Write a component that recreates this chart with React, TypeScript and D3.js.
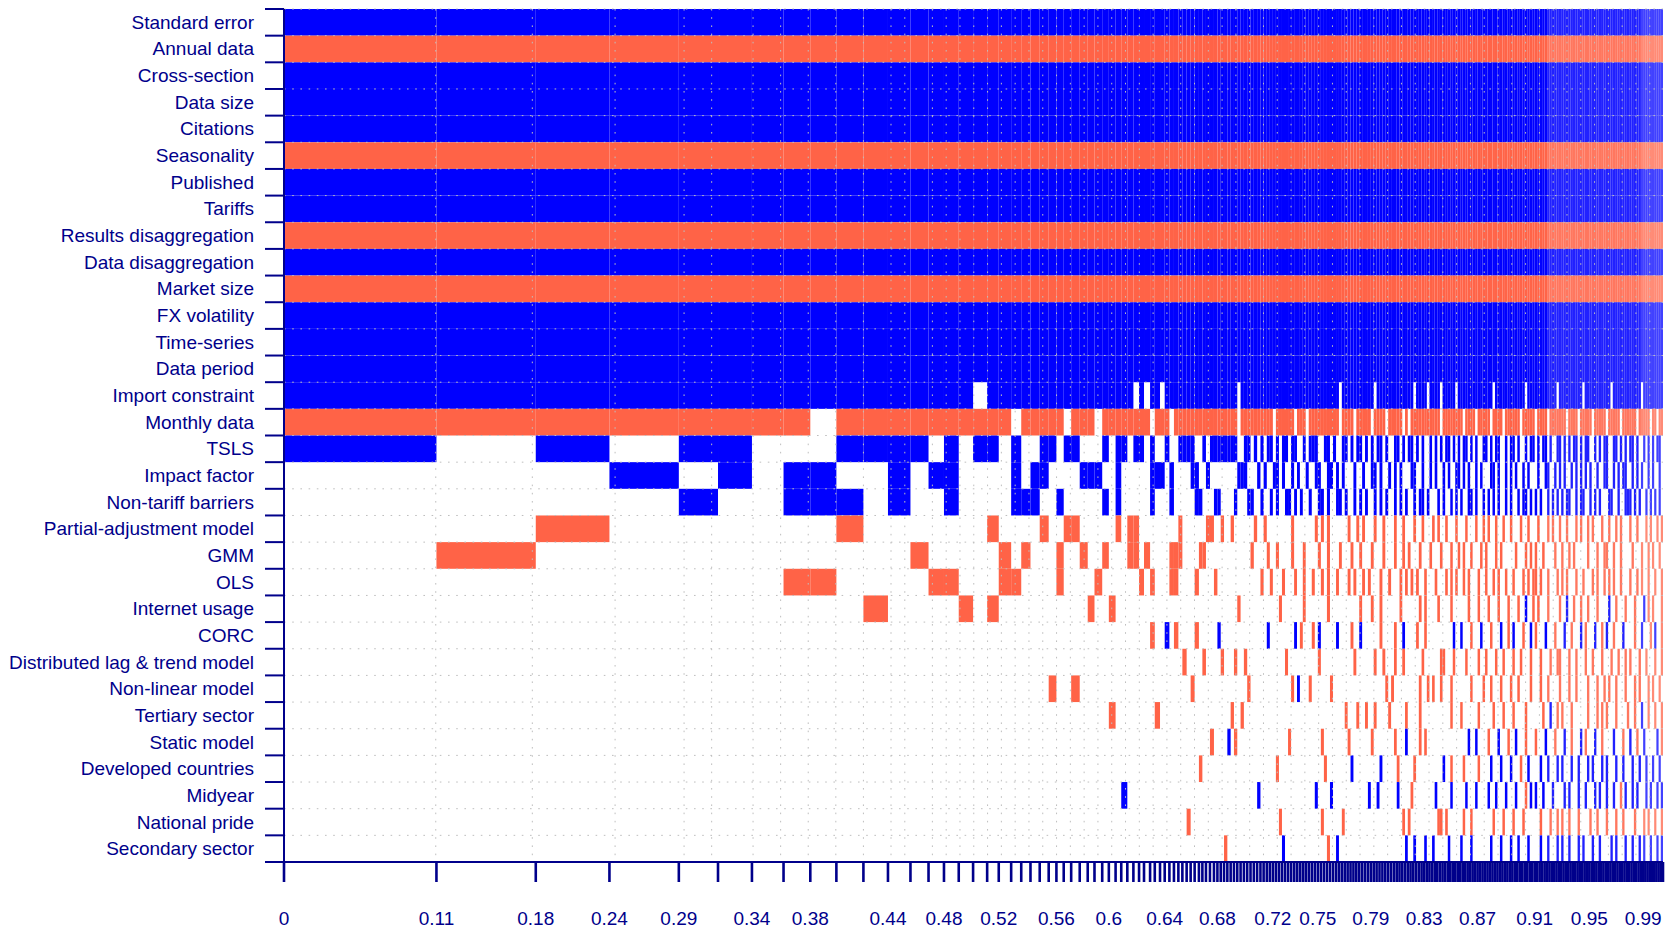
import React from 'react';
import * as d3 from 'd3';

// regressors, top to bottom
const variables = [
    'Standard error', 'Annual data', 'Cross-section', 'Data size', 'Citations', 'Seasonality',
    'Published', 'Tariffs', 'Results disaggregation', 'Data disaggregation', 'Market size',
    'FX volatility', 'Time-series', 'Data period', 'Import constraint', 'Monthly data', 'TSLS',
    'Impact factor', 'Non-tariff barriers', 'Partial-adjustment model', 'GMM', 'OLS',
    'Internet usage', 'CORC', 'Distributed lag & trend model', 'Non-linear model',
    'Tertiary sector', 'Static model', 'Developed countries', 'Midyear', 'National pride',
    'Secondary sector'
];

// rows 0-13 are in every model; sign of their coefficient
const coreSigns = ['+', '-', '+', '+', '+', '-', '+', '+', '-', '+', '-', '+', '+', '+'];

// posterior model probabilities of the best models (widths of the columns)
const headPmp = [
    0.1105, 0.0720, 0.0534, 0.0503, 0.0284, 0.0246, 0.0229, 0.0194, 0.0189, 0.0196,
    0.0178, 0.0163, 0.0131, 0.0112, 0.0107, 0.0104, 0.0102, 0.0084, 0.0090, 0.0073,
    0.0067, 0.0067, 0.0065, 0.0056, 0.0053, 0.0054, 0.0062, 0.0058, 0.0049, 0.0056,
    0.0048, 0.0049, 0.0041, 0.0044, 0.0044, 0.0041, 0.0036, 0.0044, 0.0034, 0.0038,
    0.0034, 0.0034, 0.0033, 0.0032, 0.0029, 0.0031, 0.0029, 0.0029, 0.0031, 0.0025,
    0.0026, 0.0029, 0.0029, 0.0025, 0.0024, 0.0024, 0.0024, 0.0024, 0.0024, 0.0024,
    0.0024, 0.0024, 0.0024, 0.0024, 0.0024, 0.0024, 0.0024
];

const tailPmp = [
    0.0023, 0.0023, 0.0022, 0.0022, 0.0022, 0.0022, 0.0022, 0.0022, 0.0022, 0.0022,
    0.0022, 0.0021, 0.0021, 0.0021, 0.0021,
    0.0022, 0.0022, 0.0022, 0.0022, 0.0022, 0.0022, 0.0022, 0.0022, 0.0022, 0.0022,
    0.0021, 0.0021, 0.0021, 0.0021, 0.0021, 0.0021, 0.0021, 0.0021, 0.0021, 0.0021,
    0.0021, 0.0021, 0.0021, 0.0021, 0.0021, 0.0021, 0.0021, 0.0021, 0.0021, 0.0021,
    0.0020, 0.0020, 0.0020, 0.0020, 0.0020, 0.0020, 0.0020, 0.0020, 0.0020, 0.0020,
    0.0019, 0.0019, 0.0019, 0.0019, 0.0019, 0.0019, 0.0019, 0.0019, 0.0019, 0.0019,
    0.0018, 0.0018, 0.0018, 0.0018, 0.0018, 0.0018, 0.0018, 0.0018, 0.0018, 0.0018,
    0.0018, 0.0018, 0.0018, 0.0018, 0.0018, 0.0018, 0.0018, 0.0018, 0.0018, 0.0018,
    0.0018, 0.0018, 0.0018, 0.0018, 0.0018, 0.0018, 0.0018, 0.0018, 0.0018, 0.0018,
    0.0018, 0.0018, 0.0018, 0.0018, 0.0018, 0.0018, 0.0018, 0.0018, 0.0018, 0.0018,
    0.0017, 0.0017, 0.0017, 0.0017, 0.0017, 0.0017, 0.0017, 0.0017, 0.0017, 0.0017,
    0.0017, 0.0017, 0.0017, 0.0017, 0.0017, 0.0017, 0.0017, 0.0017, 0.0017, 0.0017,
    0.0017, 0.0017, 0.0017, 0.0017, 0.0017, 0.0017, 0.0017, 0.0017, 0.0017, 0.0017,
    0.0017, 0.0017, 0.0017, 0.0017, 0.0017, 0.0017, 0.0017, 0.0017, 0.0017, 0.0017,
    0.0016, 0.0016, 0.0016, 0.0016, 0.0016, 0.0016, 0.0016, 0.0016, 0.0016, 0.0016
];

const modelPmp = [...headPmp, ...tailPmp];

// rows 14-31, one char per model: + positive, - negative, . not included
const headRows = [
    '++++++++++ ++++++.+++ ++++++++++ +++++.+.++ .+++++++++ ++++++++++ .++++++',
    '--------.- ---------. -----.---. --------.- --.------- ---------- .------',
    '+.+.++...+ +++.+.++.+ ..++.++... +.++.++.+. .+..++++.. +.++++++++ ..++.+.',
    '...+.+.++. .+.++....+ .++....+++ ..+.....++ +.+....++. .+........ +++...+',
    '....+..+++ .+..+....+ ++..+..... +.+.....+. ..+.....++ ...++....+ ...++..',
    '..-......- .......-.. ..-..--... ..-.--.... ....-..... .--..-..-. .....-.',
    '.-........ ..-.....-. -...-..-.. -...--.-.. ..---....- -......... ....-..',
    '.......--. ...--...-- ....-....- ......-.-. ..--....-. ...-...... .......',
    '.......... -....-.-.. ........-. .-........ .......... .......... -......',
    '.......... .......... .......... ........-. .+.-....-. ....+..... .......',
    '.......... .......... .......... .......... .....-.... -....-...- ..-....',
    '.......... .......... ...-..-... .......... .......-.. .......... ...-...',
    '.......... .......... .......... .-.......- .......... ........-. .-.....',
    '.......... .......... .......... .......... .......... ..-....+.- .......',
    '.......... .......... .......... .......... .........- .......... .......',
    '.......... .......... .......... ...+...... .......... .......... ......+',
    '.......... .......... .......... .......... ......-... .......... .......',
    '.......... .......... .......... .......... .......... ......-... .......'
];

const tailRows = [
    '++++++++++ ++++++++++ ++++++.+++ ++++++++.+ ++++++++++ ++.++++.++ ++.+++++.+ ++++++++++ +++.++++++ ++++++.+++ +++++++++. ++++++++++ .+++++++++ ++.+++++++ +++++.++++ +++++',
    '----.----- -.---.---- ------.--- -.-----.-- --.-----.- .--------- --.------- -.----.--- --.----.-- ----.----- .----.---- ---.----.- ----.----- .-----.--- ---.-----. --.--',
    '+.++.+.++. ++..+.+++. .++.+..++. +.++.+.+.+ +.+..++.+. ++.+.+..+. +.+.++.+.+ .++.+.+..+ +.+.++..+. ++.+..+.++ .+.++.+..+ +.+.+.++.+ .++..+.+.+ +..++.+.+. ++.+..+.+. +.++.',
    '.+..++.+.. +.+..+..++ ..++.+.+.. .+..+..++. +..+.+.+.. .++..+..+. +..+.+..++ .+.+..+.+. ..++.+..+. +.+..+.+.. .+..++..+. +.+..+.+.+ .+.+..+..+ +..+.+.++. .+.+.+..+. +..+.',
    '+..+.+..++ .+.+..+..+ +.+..++.+. .+.+.+..+. +.+..+.+.+ ..+.++.+.. .+.+..+.+. +..++.+..+ .+.+.+..+. +..+.++.+. +.+..+.+.+ .+.++..+.+ +..+.+.+.. .++..+..++ +.+.+..+.+ .+.+.',
    '.-........ -.......-. -.-......- ..-.-...-. .-...-..-. ..-..-...- .-..-...-. ..-...-..- .-..-..-.. -...-..-.. .-...-.-.. -..-...-.- ..-.-...-. .-..-.-... -..-...-.- ..-.-',
    '..-..-.... -...-....- ..-...-... -..-...-.. .-...-..-. -...-...-. ..-...-..- .-..-...-. -...-.-... ..-...-.-. -..-....-. .-..-.-... ..-...-..- -..-..-... .-...-..-. -..-.',
    '-..-...-.. .-..-..-.. -.-..-...- .-..-.-... -..-...-.- .-.-..-... -...-.-.-. .-.-...-.. -..-.-..-. .-...-.-.- -.-..-...- .-.-...-.. -...-.-..- .-.-..-... -..-.-..-. .-..-',
    '......-... ....-..... ..-....... ...-...-.. -......-.. ....-.-... .-....-... ...-...-.. .-...-...- ...-..+..- .-...-.... -..+..-..- ..-...-... .+..-...-. ..-...+.-. -...-',
    '..+....... .+.-...-.+ .....+.... -..+...... -....-..+. ...-..-... .......+.. +...-...+. ..-...+..- .+...-..+. -...+...-. ..+..-...+ .-...+..-. +..-...+.. ..-..+...- .+..-',
    '........-. .........- .......... .-......-. .-...-..-. .....-.... ..--...-.. ..-....-.. -...-..-.. .-..-...-. ..-...-..- -...-..-.. .-..-...-. ..-..-..-. -...-..-.. .-..-',
    '.......... -.+...-... ...-...... .......... ..-.-..... ....-..-.- ..-...-... ....-....- ..-...-... -..-....-. ..-..-.... -...-..-.. ..-...-..- .-..-...-. ..-.-...-. -..-.',
    '.......... .......... ........-. ..-..-..-. ...-.....- ....-..... ......-... -......-.. ...-...-.. .-....-... ...-..+..- .-...-.... ..-...-.-. -...-....- ..-..+..-. .-..-',
    '.........- .......... -........- .......-.. .....-...+ ....-.-... .......... ...+..+... .-...+...- ..+...-... -...+...-. ..+..-...+ .-...+..-. ...+...-.. +..-..+... ..+.-',
    '.....-.... .......... .-........ +......... +.....-... ..-....... ...+..-... .-.....-.. ..+...+... +...-..+.. ..+..+...+ .+...+..+. ..+.+...+. +...+..+.. .+..+..+.. +..+.',
    '.......... ........+. ...+...... ......+..+ ......+... .-........ +.....+... ..+...+... .+..+...+. ..+...-.+. +..+...+.. ..+.+...+. .+...+.+.. +..+..-.+. .+.+...+.+ ..+.+',
    '......-... .......... -......-.. .......... ........-. -......... .--.-..... .-..-..... ...-...-.. .-...-.... ..-...-..- .-..-...-. ...-..-... -...-..-.. ..-...-.-. .-..-',
    '.......+.. .......... ..-..+.... .......... .........+ ..+...+..+ .....+.... +...+..... ..+...+... +..+...+.. ..+..+...+ .+..+...+. +...+..+.. ..+.+...+. .+..+.+..+ ..+.+'
];

// cumulative model probabilities printed under the axis
const tickLabels = ['0', '0.11', '0.18', '0.24', '0.29', '0.34', '0.38', '0.44', '0.48', '0.52', '0.56',
    '0.6', '0.64', '0.68', '0.72', '0.75', '0.79', '0.83', '0.87', '0.91', '0.95', '0.99'];

const WIDTH = 1674;
const HEIGHT = 933;
const PLOT = { left: 284, right: 1663, top: 9, bottom: 862 };
const AXIS_COLOR = '#00008B';
const POS_COLOR = '#0000FF';
const NEG_COLOR = '#FF6347';
const FONT = '"Liberation Sans", Arial, Helvetica, sans-serif';
const LABEL_GAP = 52;

const clean = (s: string) => s.replace(/\s+/g, '');

const App: React.FC = () => {
    const nModels = modelPmp.length;
    const total = d3.sum(modelPmp);

    const x = d3.scaleLinear().domain([0, total]).range([PLOT.left, PLOT.right]);
    const y = d3.scaleBand<string>().domain(variables).range([PLOT.top, PLOT.bottom]);

    const ends = Array.from(d3.cumsum(modelPmp));
    const starts = [0, ...ends.slice(0, -1)];
    const boundaries = [0, ...ends];

    const codes: string[] = variables.map((_, r) => {
        if (r < coreSigns.length) return coreSigns[r].repeat(nModels);
        const s = clean(headRows[r - coreSigns.length]) + clean(tailRows[r - coreSigns.length]);
        return s.padEnd(nModels, '.').slice(0, nModels);
    });

    // the thinnest columns come out a little washed out in the original raster
    const thinOpacity = (w: number) => Math.max(0.74, Math.min(1, 0.74 + (w - 2.2) * 0.9));

    const cells: { key: string; x: number; y: number; w: number; h: number; fill: string; op: number }[] = [];
    codes.forEach((row, r) => {
        const yy = y(variables[r])!;
        for (let i = 0; i < nModels; i++) {
            const c = row[i];
            if (c === '.') continue;
            const x0 = x(starts[i]);
            const x1 = x(ends[i]);
            cells.push({
                key: `${r}-${i}`, x: x0, y: yy, w: x1 - x0, h: y.bandwidth(),
                fill: c === '+' ? POS_COLOR : NEG_COLOR, op: thinOpacity(x1 - x0)
            });
        }
    });

    // dotted grid at rounded cumulative probabilities
    const gridX = Array.from(new Set(ends.map(c => Math.round(c * 100) / 100))).filter(v => v <= total);
    const rowEdges = d3.range(variables.length + 1).map(i => PLOT.top + i * y.step());

    // each label sits on a model boundary that rounds to it, keeping labels apart
    const labelX: number[] = [];
    tickLabels.forEach((l, i) => {
        const v = +l;
        const prev = i > 0 ? labelX[i - 1] : -Infinity;
        const candidates = boundaries.filter(b => Math.abs(Math.round(b * 100) / 100 - v) < 1e-9);
        const spaced = candidates.find(b => x(b) >= prev + LABEL_GAP);
        const b = spaced ?? d3.least(boundaries, bb => Math.abs(bb - v))!;
        labelX.push(x(b));
    });

    return (
        <svg width={WIDTH} height={HEIGHT} style={{ position: 'absolute', left: 0, top: 0, background: '#fff' }}>
            <g>
                {cells.map(c => (
                    <rect key={c.key} x={c.x} y={c.y} width={c.w} height={c.h} fill={c.fill} fillOpacity={c.op} />
                ))}
            </g>
            <g stroke="#bebebe" strokeWidth={1} strokeDasharray="1.6 6.6" fill="none">
                {gridX.map(v => (
                    <line key={`gx${v}`} x1={x(v)} x2={x(v)} y1={PLOT.top} y2={PLOT.bottom} />
                ))}
                {rowEdges.map((e, i) => (
                    <line key={`gy${i}`} x1={PLOT.left} x2={PLOT.right} y1={e} y2={e} />
                ))}
            </g>
            <g stroke={AXIS_COLOR} fill="none">
                <line x1={PLOT.left} x2={PLOT.left} y1={PLOT.top} y2={PLOT.bottom} strokeWidth={2} />
                {rowEdges.map((e, i) => (
                    <line key={`yt${i}`} x1={PLOT.left - 19} x2={PLOT.left} y1={e} y2={e} strokeWidth={2} />
                ))}
                <line x1={PLOT.left} x2={PLOT.right} y1={PLOT.bottom} y2={PLOT.bottom} strokeWidth={2} />
                {boundaries.map((b, i) => (
                    <line key={`xt${i}`} x1={x(b)} x2={x(b)} y1={PLOT.bottom} y2={PLOT.bottom + 20} strokeWidth={2.6} />
                ))}
            </g>
            <g fill={AXIS_COLOR} fontFamily={FONT} fontSize={19}>
                {variables.map(v => (
                    <text key={v} x={PLOT.left - 30} y={y(v)! + y.bandwidth() / 2} textAnchor="end" dominantBaseline="central">
                        {v}
                    </text>
                ))}
                {tickLabels.map((l, i) => (
                    <text key={`xl${l}`} x={labelX[i]} y={925} textAnchor="middle">
                        {l}
                    </text>
                ))}
            </g>
        </svg>
    );
};

export default App;
